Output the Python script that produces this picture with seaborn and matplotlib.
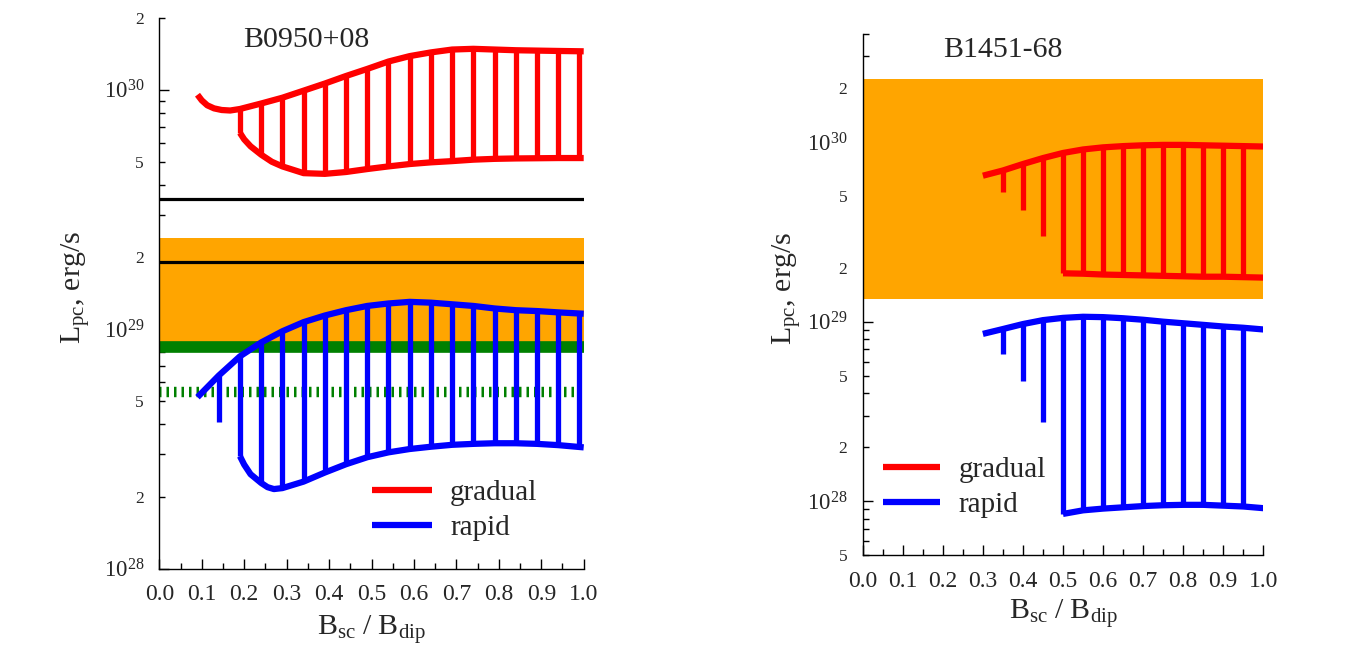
import numpy as np
import pandas as pd
import matplotlib
matplotlib.use("Agg")
import matplotlib.pyplot as plt
import matplotlib.ticker as mticker
import seaborn as sns

# ---------------- data ----------------
# Left panel: B0950+08
L_red_up_x = [0.09, 0.10, 0.113, 0.129, 0.147, 0.167, 0.19, 0.24, 0.29, 0.34, 0.39, 0.44, 0.49,
              0.54, 0.59, 0.64, 0.69, 0.74, 0.79, 0.84, 0.89, 0.94, 1.0]
L_red_up_y = [9.52e29, 9.02e29, 8.6e29, 8.35e29, 8.22e29, 8.18e29, 8.3e29, 8.75e29, 9.25e29,
              9.9e29, 1.06e30, 1.14e30, 1.22e30, 1.31e30, 1.38e30, 1.43e30, 1.47e30, 1.48e30,
              1.47e30, 1.46e30, 1.455e30, 1.45e30, 1.445e30]
L_red_lo_x = [0.19, 0.20, 0.215, 0.24, 0.265, 0.29, 0.34, 0.39, 0.44, 0.49, 0.54, 0.59, 0.64,
              0.69, 0.74, 0.79, 0.84, 0.89, 0.94, 1.0]
L_red_lo_y = [6.6e29, 6.2e29, 5.8e29, 5.35e29, 5.0e29, 4.78e29, 4.48e29, 4.45e29, 4.53e29,
              4.66e29, 4.78e29, 4.89e29, 4.97e29, 5.03e29, 5.10e29, 5.14e29, 5.16e29, 5.17e29,
              5.18e29, 5.18e29]
L_red_v_x = [0.19, 0.24, 0.29, 0.34, 0.39, 0.44, 0.49, 0.54, 0.59, 0.64, 0.69, 0.74,
             0.79, 0.84, 0.89, 0.94, 0.99]
L_red_v_top = [8.3e29, 8.75e29, 9.25e29, 9.9e29, 1.06e30, 1.14e30, 1.22e30, 1.31e30, 1.38e30,
               1.43e30, 1.47e30, 1.48e30, 1.47e30, 1.46e30, 1.455e30, 1.45e30, 1.445e30]
L_red_v_bot = [6.6e29, 5.35e29, 4.78e29, 4.48e29, 4.45e29, 4.53e29, 4.66e29, 4.78e29, 4.89e29,
               4.97e29, 5.03e29, 5.10e29, 5.14e29, 5.16e29, 5.17e29, 5.18e29, 5.18e29]

L_blue_up_x = [0.09, 0.14, 0.19, 0.24, 0.29, 0.34, 0.39, 0.44, 0.49, 0.54, 0.59, 0.64,
               0.69, 0.74, 0.79, 0.84, 0.89, 0.94, 1.0]
L_blue_up_y = [5.2e28, 6.4e28, 7.7e28, 8.8e28, 9.8e28, 1.07e29, 1.14e29, 1.20e29, 1.25e29,
               1.28e29, 1.30e29, 1.29e29, 1.27e29, 1.25e29, 1.22e29, 1.20e29, 1.19e29,
               1.175e29, 1.16e29]
L_blue_lo_x = [0.19, 0.20, 0.215, 0.24, 0.255, 0.27, 0.29, 0.34, 0.39, 0.44, 0.49, 0.54, 0.59,
               0.64, 0.69, 0.74, 0.79, 0.84, 0.89, 0.94, 1.0]
L_blue_lo_y = [2.95e28, 2.72e28, 2.48e28, 2.28e28, 2.19e28, 2.15e28, 2.17e28, 2.31e28, 2.52e28,
               2.73e28, 2.92e28, 3.06e28, 3.16e28, 3.23e28, 3.29e28, 3.32e28, 3.34e28, 3.34e28,
               3.32e28, 3.28e28, 3.21e28]
L_blue_v_x = [0.14, 0.19, 0.24, 0.29, 0.34, 0.39, 0.44, 0.49, 0.54, 0.59, 0.64, 0.69,
              0.74, 0.79, 0.84, 0.89, 0.94, 0.99]
L_blue_v_top = [6.4e28, 7.7e28, 8.8e28, 9.8e28, 1.07e29, 1.14e29, 1.20e29, 1.25e29, 1.28e29,
                1.30e29, 1.29e29, 1.27e29, 1.25e29, 1.22e29, 1.20e29, 1.19e29, 1.175e29, 1.16e29]
L_blue_v_bot = [4.1e28, 2.95e28, 2.28e28, 2.17e28, 2.31e28, 2.52e28, 2.73e28, 2.92e28, 3.06e28,
                3.16e28, 3.23e28, 3.29e28, 3.32e28, 3.34e28, 3.34e28, 3.32e28, 3.28e28, 3.22e28]

L_orange_band = [8.4e28, 2.4e29]
L_black_lines = [3.5e29, 1.9e29]
L_green_solid = 8.4e28
L_green_dotted = 5.45e28

# Right panel: B1451-68
R_red_up_x = [0.30, 0.35, 0.40, 0.45, 0.50, 0.55, 0.60, 0.65, 0.70, 0.75, 0.80, 0.85, 0.90, 0.95, 1.0]
R_red_up_y = [6.5e29, 6.95e29, 7.55e29, 8.15e29, 8.7e29, 9.1e29, 9.35e29, 9.5e29, 9.6e29,
              9.65e29, 9.65e29, 9.6e29, 9.55e29, 9.5e29, 9.45e29]
R_red_lo_x = [0.50, 0.55, 0.60, 0.65, 0.70, 0.75, 0.80, 0.85, 0.90, 0.95, 1.0]
R_red_lo_y = [1.86e29, 1.85e29, 1.83e29, 1.82e29, 1.81e29, 1.80e29, 1.79e29, 1.78e29, 1.78e29,
              1.77e29, 1.76e29]
R_red_v_x = [0.35, 0.40, 0.45, 0.50, 0.55, 0.60, 0.65, 0.70, 0.75, 0.80, 0.85, 0.90, 0.95]
R_red_v_top = [6.95e29, 7.55e29, 8.15e29, 8.7e29, 9.1e29, 9.35e29, 9.5e29, 9.6e29, 9.65e29,
               9.65e29, 9.6e29, 9.55e29, 9.5e29]
R_red_v_bot = [5.3e29, 4.2e29, 3.0e29, 1.86e29, 1.85e29, 1.83e29, 1.82e29, 1.81e29, 1.80e29,
               1.79e29, 1.78e29, 1.78e29, 1.77e29]

R_blue_up_x = [0.30, 0.35, 0.40, 0.45, 0.50, 0.55, 0.60, 0.65, 0.70, 0.75, 0.80, 0.85, 0.90, 0.95, 1.0]
R_blue_up_y = [8.55e28, 9.1e28, 9.7e28, 1.02e29, 1.05e29, 1.065e29, 1.06e29, 1.045e29, 1.025e29,
               1.0e29, 9.8e28, 9.6e28, 9.4e28, 9.25e28, 9.05e28]
R_blue_lo_x = [0.50, 0.55, 0.60, 0.65, 0.70, 0.75, 0.80, 0.85, 0.90, 0.95, 1.0]
R_blue_lo_y = [8.5e27, 8.9e27, 9.1e27, 9.25e27, 9.4e27, 9.5e27, 9.55e27, 9.55e27, 9.45e27,
               9.35e27, 9.15e27]
R_blue_v_x = [0.35, 0.40, 0.45, 0.50, 0.55, 0.60, 0.65, 0.70, 0.75, 0.80, 0.85, 0.90, 0.95]
R_blue_v_top = [9.1e28, 9.7e28, 1.02e29, 1.05e29, 1.065e29, 1.06e29, 1.045e29, 1.025e29, 1.0e29,
                9.8e28, 9.6e28, 9.4e28, 9.25e28]
R_blue_v_bot = [6.6e28, 4.7e28, 2.75e28, 8.5e27, 8.9e27, 9.1e27, 9.25e27, 9.4e27, 9.5e27,
                9.55e27, 9.55e27, 9.45e27, 9.35e27]

R_orange_band = [1.34e29, 2.25e30]

titles = ["B0950+08", "B1451-68"]
legend_labels = ["gradual", "rapid"]
x_ticks = [0.0, 0.1, 0.2, 0.3, 0.4, 0.5, 0.6, 0.7, 0.8, 0.9, 1.0]

# ---------------- style ----------------
sns.set_style("ticks")
plt.rcParams["font.family"] = ["Liberation Serif", "DejaVu Serif"]
plt.rcParams["mathtext.fontset"] = "stix"
plt.rcParams["lines.solid_capstyle"] = "butt"
plt.rcParams["lines.scale_dashes"] = False
plt.rcParams["axes.linewidth"] = 1.0

RED = "#ff0000"
BLUE = "#0000ff"
ORANGE = "#ffa500"
GREEN = "#008000"
CURVE_LW = 4.5
VERT_LW = 3.8

fig = plt.figure(figsize=(13.7, 6.58), dpi=100)
ax1 = fig.add_axes([0.11628, 0.13571, 0.30978, 0.83769])
ax2 = fig.add_axes([0.62971, 0.15608, 0.29241, 0.79225])


def minor_fmt(v, pos):
    if v <= 0:
        return ""
    m = v / 10 ** np.floor(np.log10(v) + 1e-9)
    m = round(m)
    return str(m) if m in (2, 5) else ""


def style_axis(ax, ylim):
    ax.set_yscale("log")
    ax.set_xlim(0, 1)
    ax.set_ylim(*ylim)
    ax.yaxis.set_major_locator(mticker.LogLocator(base=10, numticks=20))
    ax.yaxis.set_minor_locator(mticker.LogLocator(base=10, subs=np.arange(2, 10), numticks=20))
    ax.yaxis.set_major_formatter(mticker.LogFormatterSciNotation())
    ax.yaxis.set_minor_formatter(mticker.FuncFormatter(minor_fmt))
    ax.xaxis.set_major_locator(mticker.FixedLocator(x_ticks))
    ax.xaxis.set_major_formatter(mticker.FormatStrFormatter("%.1f"))
    ax.xaxis.set_minor_locator(mticker.MultipleLocator(0.05))
    ax.tick_params(axis="both", which="major", direction="in", length=7, width=1.0,
                   color="black")
    ax.tick_params(axis="both", which="minor", direction="in", length=4.5, width=1.0,
                   color="black")
    ax.tick_params(axis="x", which="major", labelsize=17, pad=11)
    ax.tick_params(axis="y", which="major", labelsize=16.5, pad=11)
    ax.tick_params(axis="y", which="minor", labelsize=12.5, pad=11)
    sns.despine(ax=ax)
    for s in ("left", "bottom"):
        ax.spines[s].set_color("black")


def curve(ax, xs, ys, color, label=None):
    df = pd.DataFrame({"x": xs, "y": ys})
    sns.lineplot(data=df, x="x", y="y", ax=ax, color=color, lw=CURVE_LW, sort=False,
                 estimator=None, label=label, legend=False, zorder=5)


# ---------------- left panel ----------------
style_axis(ax1, (1e28, 2e30))
ax1.axhspan(L_orange_band[0], L_orange_band[1], color=ORANGE, lw=0, zorder=1)
for yv in L_black_lines:
    ax1.axhline(yv, color="black", lw=2.3, zorder=2)
ax1.axhline(L_green_solid, color=GREEN, lw=8.4, zorder=2)
ax1.axhline(L_green_dotted, color=GREEN, lw=7.5, dashes=(1.8, 3.6), zorder=2)

curve(ax1, L_red_up_x, L_red_up_y, RED, legend_labels[0])
curve(ax1, L_red_lo_x, L_red_lo_y, RED)
ax1.vlines(L_red_v_x, L_red_v_bot, L_red_v_top, color=RED, lw=VERT_LW, zorder=5)
curve(ax1, L_blue_up_x, L_blue_up_y, BLUE, legend_labels[1])
curve(ax1, L_blue_lo_x, L_blue_lo_y, BLUE)
ax1.vlines(L_blue_v_x, L_blue_v_bot, L_blue_v_top, color=BLUE, lw=VERT_LW, zorder=5)

# ---------------- right panel ----------------
style_axis(ax2, (5e27, 4e30))
ax2.axhspan(R_orange_band[0], R_orange_band[1], color=ORANGE, lw=0, zorder=1)
curve(ax2, R_red_up_x, R_red_up_y, RED, legend_labels[0])
curve(ax2, R_red_lo_x, R_red_lo_y, RED)
ax2.vlines(R_red_v_x, R_red_v_bot, R_red_v_top, color=RED, lw=VERT_LW, zorder=5)
curve(ax2, R_blue_up_x, R_blue_up_y, BLUE, legend_labels[1])
curve(ax2, R_blue_lo_x, R_blue_lo_y, BLUE)
ax2.vlines(R_blue_v_x, R_blue_v_bot, R_blue_v_top, color=BLUE, lw=VERT_LW, zorder=5)

for ax in (ax1, ax2):
    ax.set_xlabel("")
    ax.set_ylabel("")
    ax.set_xlim(0, 1)

W, H = 1370.0, 658.0


def fx(px):
    return px / W


def fy(py):
    return 1 - py / H


# titles
fig.text(fx(243), fy(46.7), titles[0], fontsize=21.5, ha="left", va="baseline")
fig.text(fx(942.7), fy(57.3), titles[1], fontsize=21.5, ha="left", va="baseline")

# axis labels
xlab = r"$\mathregular{B_{sc}\ /\ B_{dip}}$"
ylab = r"$\mathregular{L_{pc}}$, erg/s"
fig.text(fx(371.5), fy(635), xlab, fontsize=21.5, ha="center", va="baseline")
fig.text(fx(1063), fy(618.3), xlab, fontsize=21.5, ha="center", va="baseline")
fig.text(fx(75), fy(288), ylab, fontsize=21.5, ha="center", va="center", rotation=90)
fig.text(fx(787), fy(289), ylab, fontsize=21.5, ha="center", va="center", rotation=90)

# legends
for ax, (lx, ly), hl in ((ax1, (372, 480), 2.06), (ax2, (883.3, 456.5), 1.95)):
    handles, labels = ax.get_legend_handles_labels()
    ax.legend(handles, labels, loc="upper left", bbox_to_anchor=(fx(lx), fy(ly)),
              bbox_transform=fig.transFigure, frameon=False, fontsize=21,
              handlelength=hl, handletextpad=0.62, labelspacing=0.29,
              borderpad=0, borderaxespad=0)

fig.savefig("out.png", dpi=100)
